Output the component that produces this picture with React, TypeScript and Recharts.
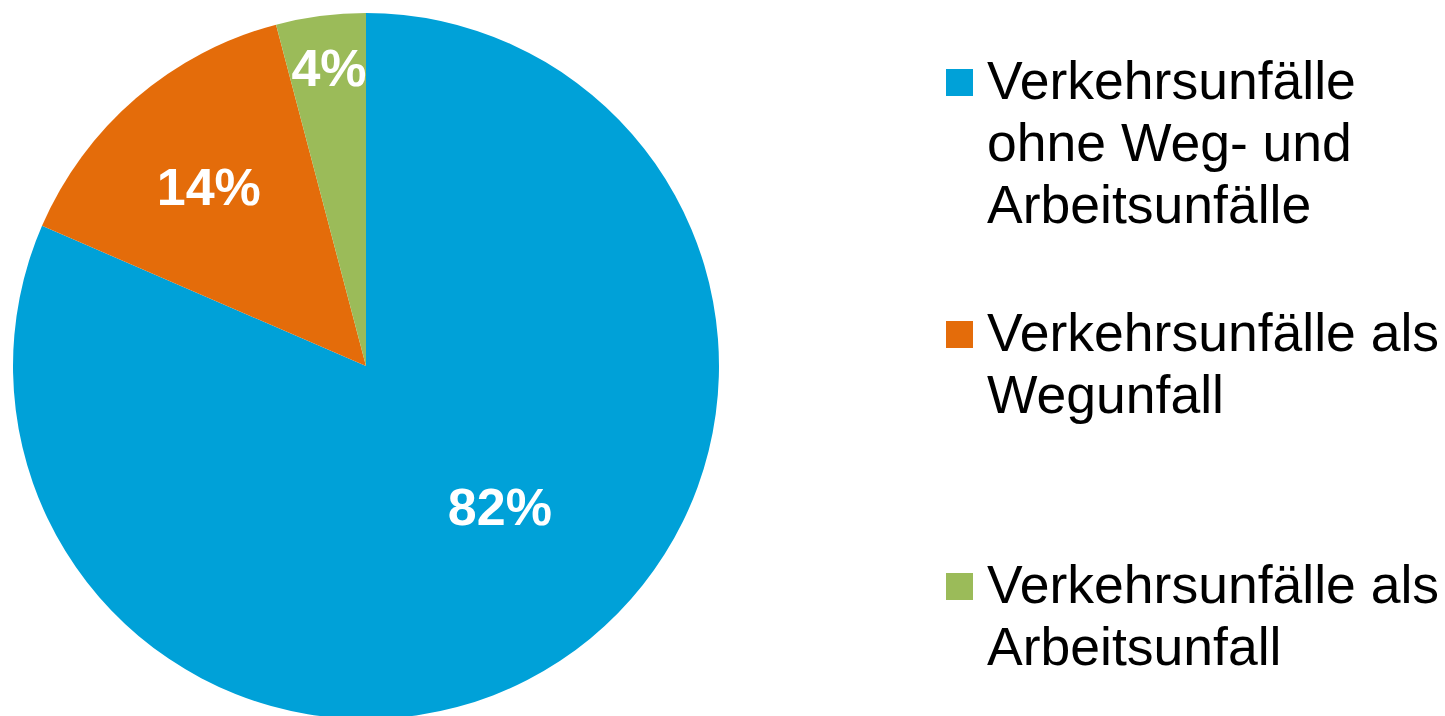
import React from 'react';
import { PieChart, Pie, Cell, Legend } from 'recharts';

const categories = [
  'Verkehrsunfälle ohne Weg- und Arbeitsunfälle',
  'Verkehrsunfälle als Wegunfall',
  'Verkehrsunfälle als Arbeitsunfall',
];
const shares = [81.5, 14.4, 4.1];
const labels = ['82%', '14%', '4%'];
const colors = ['#00A1D8', '#E46C0A', '#9BBB59'];

// where Excel put each label: fraction of the radius and angle shift from the slice middle
const labelRadius = [0.55, 0.675, 0.85];
const labelShift = [10.3, 0.6, -0.3];

const data = categories.map((name, i) => ({ name, value: shares[i], label: labels[i] }));

const RAD = Math.PI / 180;
const FONT = '"Liberation Sans", Arial, sans-serif';

const renderLabel = (props: any) => {
  const { cx, cy, midAngle, outerRadius, index } = props;
  const r = outerRadius * labelRadius[index];
  const a = (midAngle + labelShift[index]) * RAD;
  const x = cx + r * Math.cos(a);
  const y = cy - r * Math.sin(a);
  return (
    <text
      x={x}
      y={y}
      fill="#fff"
      textAnchor="middle"
      dominantBaseline="central"
      fontFamily={FONT}
      fontWeight="bold"
      fontSize={52}
    >
      {labels[index]}
    </text>
  );
};

const LegendBox = () => (
  <div style={{ position: 'relative', width: 515, height: 716, fontFamily: FONT }}>
    {categories.map((name, i) => (
      <div key={name} style={{ position: 'absolute', left: 0, top: 50 + i * 252, width: 515 }}>
        <div
          style={{
            position: 'absolute',
            left: 16,
            top: 19,
            width: 27,
            height: 27,
            background: colors[i],
          }}
        />
        <div
          style={{
            position: 'absolute',
            left: 57,
            top: 0,
            width: 458,
            fontSize: 53.5,
            lineHeight: '62px',
            color: '#000',
          }}
        >
          {name}
        </div>
      </div>
    ))}
  </div>
);

export default function App() {
  return (
    <div style={{ position: 'absolute', left: 0, top: 0, width: 1445, height: 716, background: '#fff' }}>
      <PieChart width={1445} height={716} margin={{ top: 0, right: 0, bottom: 0, left: 0 }}>
        <Pie
          data={data}
          dataKey="value"
          nameKey="name"
          cx={366}
          cy={366}
          outerRadius={353}
          startAngle={90}
          endAngle={-270}
          stroke="none"
          labelLine={false}
          label={renderLabel}
          isAnimationActive={false}
        >
          {data.map((d, i) => (
            <Cell key={d.name} fill={colors[i]} />
          ))}
        </Pie>
        <Legend
          layout="vertical"
          align="right"
          verticalAlign="top"
          content={() => <LegendBox />}
          wrapperStyle={{ left: 930, top: 0, right: 'auto', width: 515, height: 716 }}
        />
      </PieChart>
    </div>
  );
}
